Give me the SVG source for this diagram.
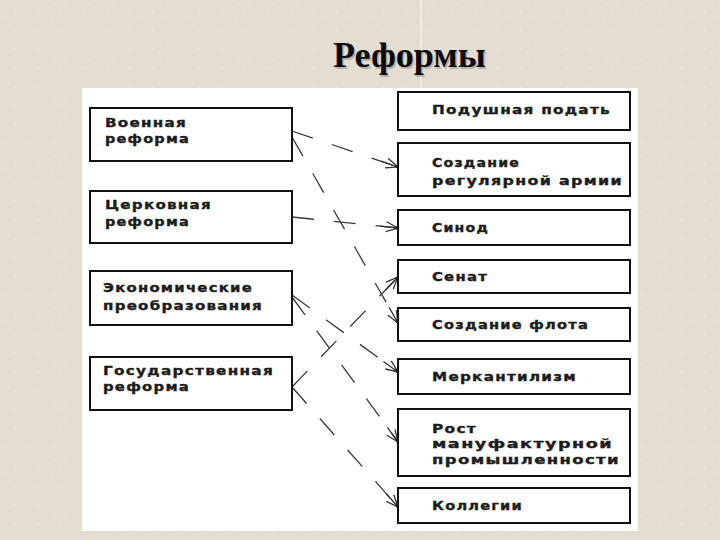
<svg xmlns="http://www.w3.org/2000/svg" width="720" height="540" viewBox="0 0 720 540">
<defs>
<pattern id="noise" width="23" height="19" patternUnits="userSpaceOnUse">
<rect width="23" height="19" fill="#e4ded2"/>
<circle cx="3" cy="4" r="0.7" fill="#b9b1a3" opacity="0.35"/>
<circle cx="15" cy="11" r="0.7" fill="#f6f2ea" opacity="0.6"/>
<circle cx="9" cy="16" r="0.5" fill="#c4bcae" opacity="0.35"/>
<circle cx="20" cy="2" r="0.5" fill="#f4f0e8" opacity="0.6"/>
</pattern>
<marker id="arr" markerUnits="userSpaceOnUse" markerWidth="24" markerHeight="16" viewBox="-18 -8 20 16" refX="0" refY="0" orient="auto">
<path d="M-18,0 L0,0 M-12,-5 L0,0 L-12,5" fill="none" stroke="#333" stroke-width="1.3"/>
<circle cx="-1" cy="0" r="1.5" fill="#222"/>
</marker>
</defs>
<style>
.box{fill:#fff;stroke:#111;stroke-width:2}
.t{font-family:"DejaVu Sans","Liberation Sans",sans-serif;font-weight:bold;font-size:12px;fill:#1c1c1c;stroke:#1c1c1c;stroke-width:0.35;letter-spacing:1px}
.c{fill:none;stroke:#3a3a3a;stroke-width:1.3;stroke-dasharray:22 20;marker-end:url(#arr)}
.title{font-family:"Liberation Serif","DejaVu Serif",serif;font-weight:bold;font-size:36px}
</style>
<rect width="720" height="540" fill="url(#noise)"/>
<line x1="421" y1="0" x2="421" y2="88" stroke="#ffffff" stroke-width="1.2" opacity="0.7"/>
<text class="title" x="334.5" y="68.5" fill="#9a958c" opacity="0.6">Реформы</text>
<text class="title" x="333" y="67" fill="#0a0a0a">Реформы</text>
<rect x="82" y="88" width="556" height="443" fill="#ffffff"/>

<g id="connectors">
<path class="c" d="M292,131 L398,167"/>
<path class="c" d="M292,137 L398,323"/>
<path class="c" d="M292,217 L398,228"/>
<path class="c" d="M292,295 L398,372"/>
<path class="c" d="M292,297 L398,442"/>
<path class="c" d="M292,387 L398,277"/>
<path class="c" d="M292,387 L398,507"/>
</g>

<g id="voennaya">
<rect class="box" x="90" y="108" width="202" height="53"/>
<text class="t" x="105" y="127" textLength="82" lengthAdjust="spacingAndGlyphs">Военная</text>
<text class="t" x="105" y="143" textLength="85" lengthAdjust="spacingAndGlyphs">реформа</text>
</g>
<g id="tserkovnaya">
<rect class="box" x="90" y="191" width="202" height="52"/>
<text class="t" x="105" y="209" textLength="107" lengthAdjust="spacingAndGlyphs">Церковная</text>
<text class="t" x="105" y="226" textLength="85" lengthAdjust="spacingAndGlyphs">реформа</text>
</g>
<g id="ekonomicheskie">
<rect class="box" x="90" y="271" width="202" height="54"/>
<text class="t" x="103" y="292" textLength="150" lengthAdjust="spacingAndGlyphs">Экономические</text>
<text class="t" x="103" y="310" textLength="160" lengthAdjust="spacingAndGlyphs">преобразования</text>
</g>
<g id="gosudarstvennaya">
<rect class="box" x="90" y="357" width="202" height="53"/>
<text class="t" x="103" y="375" textLength="171" lengthAdjust="spacingAndGlyphs">Государственная</text>
<text class="t" x="103" y="391" textLength="87" lengthAdjust="spacingAndGlyphs">реформа</text>
</g>

<g id="podushnaya">
<rect class="box" x="398" y="92" width="232" height="38"/>
<text class="t" x="432" y="114" textLength="179" lengthAdjust="spacingAndGlyphs">Подушная подать</text>
</g>
<g id="armiya">
<rect class="box" x="398" y="143" width="232" height="53"/>
<text class="t" x="432" y="167" textLength="88" lengthAdjust="spacingAndGlyphs">Создание</text>
<text class="t" x="432" y="185" textLength="191" lengthAdjust="spacingAndGlyphs">регулярной армии</text>
</g>
<g id="sinod">
<rect class="box" x="398" y="210" width="232" height="35"/>
<text class="t" x="432" y="232" textLength="57" lengthAdjust="spacingAndGlyphs">Синод</text>
</g>
<g id="senat">
<rect class="box" x="398" y="260" width="232" height="33"/>
<text class="t" x="432" y="281" textLength="56" lengthAdjust="spacingAndGlyphs">Сенат</text>
</g>
<g id="flot">
<rect class="box" x="398" y="308" width="232" height="33"/>
<text class="t" x="432" y="329" textLength="157" lengthAdjust="spacingAndGlyphs">Создание флота</text>
</g>
<g id="merkantilizm">
<rect class="box" x="398" y="359" width="232" height="35"/>
<text class="t" x="432" y="381" textLength="145" lengthAdjust="spacingAndGlyphs">Меркантилизм</text>
</g>
<g id="rost">
<rect class="box" x="398" y="409" width="232" height="67"/>
<text class="t" x="432" y="433" textLength="45" lengthAdjust="spacingAndGlyphs">Рост</text>
<text class="t" x="432" y="448" textLength="181" lengthAdjust="spacingAndGlyphs">мануфактурной</text>
<text class="t" x="432" y="464" textLength="188" lengthAdjust="spacingAndGlyphs">промышленности</text>
</g>
<g id="kollegii">
<rect class="box" x="398" y="488" width="232" height="35"/>
<text class="t" x="432" y="510" textLength="91" lengthAdjust="spacingAndGlyphs">Коллегии</text>
</g>
</svg>
